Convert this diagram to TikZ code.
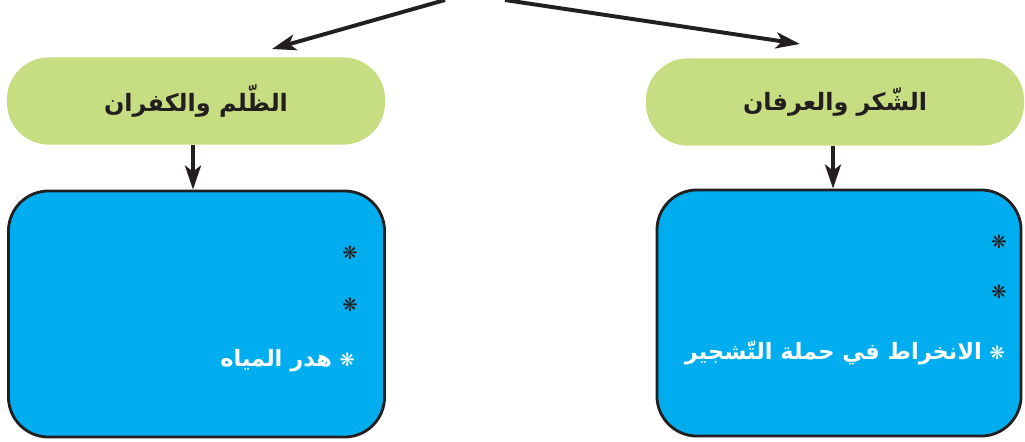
\documentclass[tikz,border=0pt]{standalone}
\usepackage{fontspec}
\usetikzlibrary{arrows.meta, positioning}
\TeXXeTstate=1
\newfontfamily\arabicfont[Script=Arabic]{DejaVu Sans}
\definecolor{LeafGreen}{RGB}{199,221,130}
\definecolor{SkyBlue}{RGB}{0,174,239}
\definecolor{InkDark}{RGB}{35,31,32}
\def\sz{\fontsize{17}{20}\selectfont}
\def\si{\fontsize{16}{19}\selectfont}
\def\st{\fontsize{13}{15}\selectfont}

\begin{document}
\begin{tikzpicture}[x=0.025cm, y=-0.025cm,
    pill/.style={fill=LeafGreen, rounded corners=1.05cm, minimum width=9.45cm,
        minimum height=2.18cm, text=InkDark, font=\arabicfont\bfseries\sz},
    card/.style={fill=SkyBlue, draw=InkDark, line width=2pt, rounded corners=1cm,
        minimum height=6.15cm},
    link/.style={InkDark, line width=2.8pt, -{Stealth[length=6mm, width=4mm, inset=1.5mm]}},
    item/.style={anchor=east, text=white, font=\arabicfont\bfseries\si},
    star/.style={text=InkDark, font=\arabicfont\st}]

\useasboundingbox (0,0) rectangle (1025,441);

% the two headings
\node[pill] (zulm) at (196,101) {\beginR الظّلم والكفران\endR};
\node[pill] (shukr) at (835,102) {\beginR الشّكر والعرفان\endR};

% the two cards
\node[card, minimum width=9.4cm] (zulmbox) at (196.5,314) {};
\node[card, minimum width=9.1cm] (shukrbox) at (839,313) {};

% arrows from above
\coordinate (topL) at (445,0);
\coordinate (topR) at (505,0);
\coordinate (endL) at (272,49);
\coordinate (endR) at (800,44);
\draw[link] (topL) -- (endL);
\draw[link] (topR) -- (endR);

\draw[link] (zulm.south -| 193,0) -- (zulmbox.north -| 193,0);
\draw[link] (shukr.south -| 833,0) -- (shukrbox.north -| 833,0);

% empty bullets
\foreach \x/\y [count=\i] in {350/253, 350/305, 999/242, 999/292}{
    \node[star] (s\i) at (\x,\y) {❋};
}

% filled bullets
\node[item] (waste) at (360,361) {\beginR{\st ❋} هدر المياه\endR};
\node[item] (plant) at (1010,353) {\beginR{\st ❋} الانخراط في حملة التّشجير\endR};

\end{tikzpicture}
\end{document}
